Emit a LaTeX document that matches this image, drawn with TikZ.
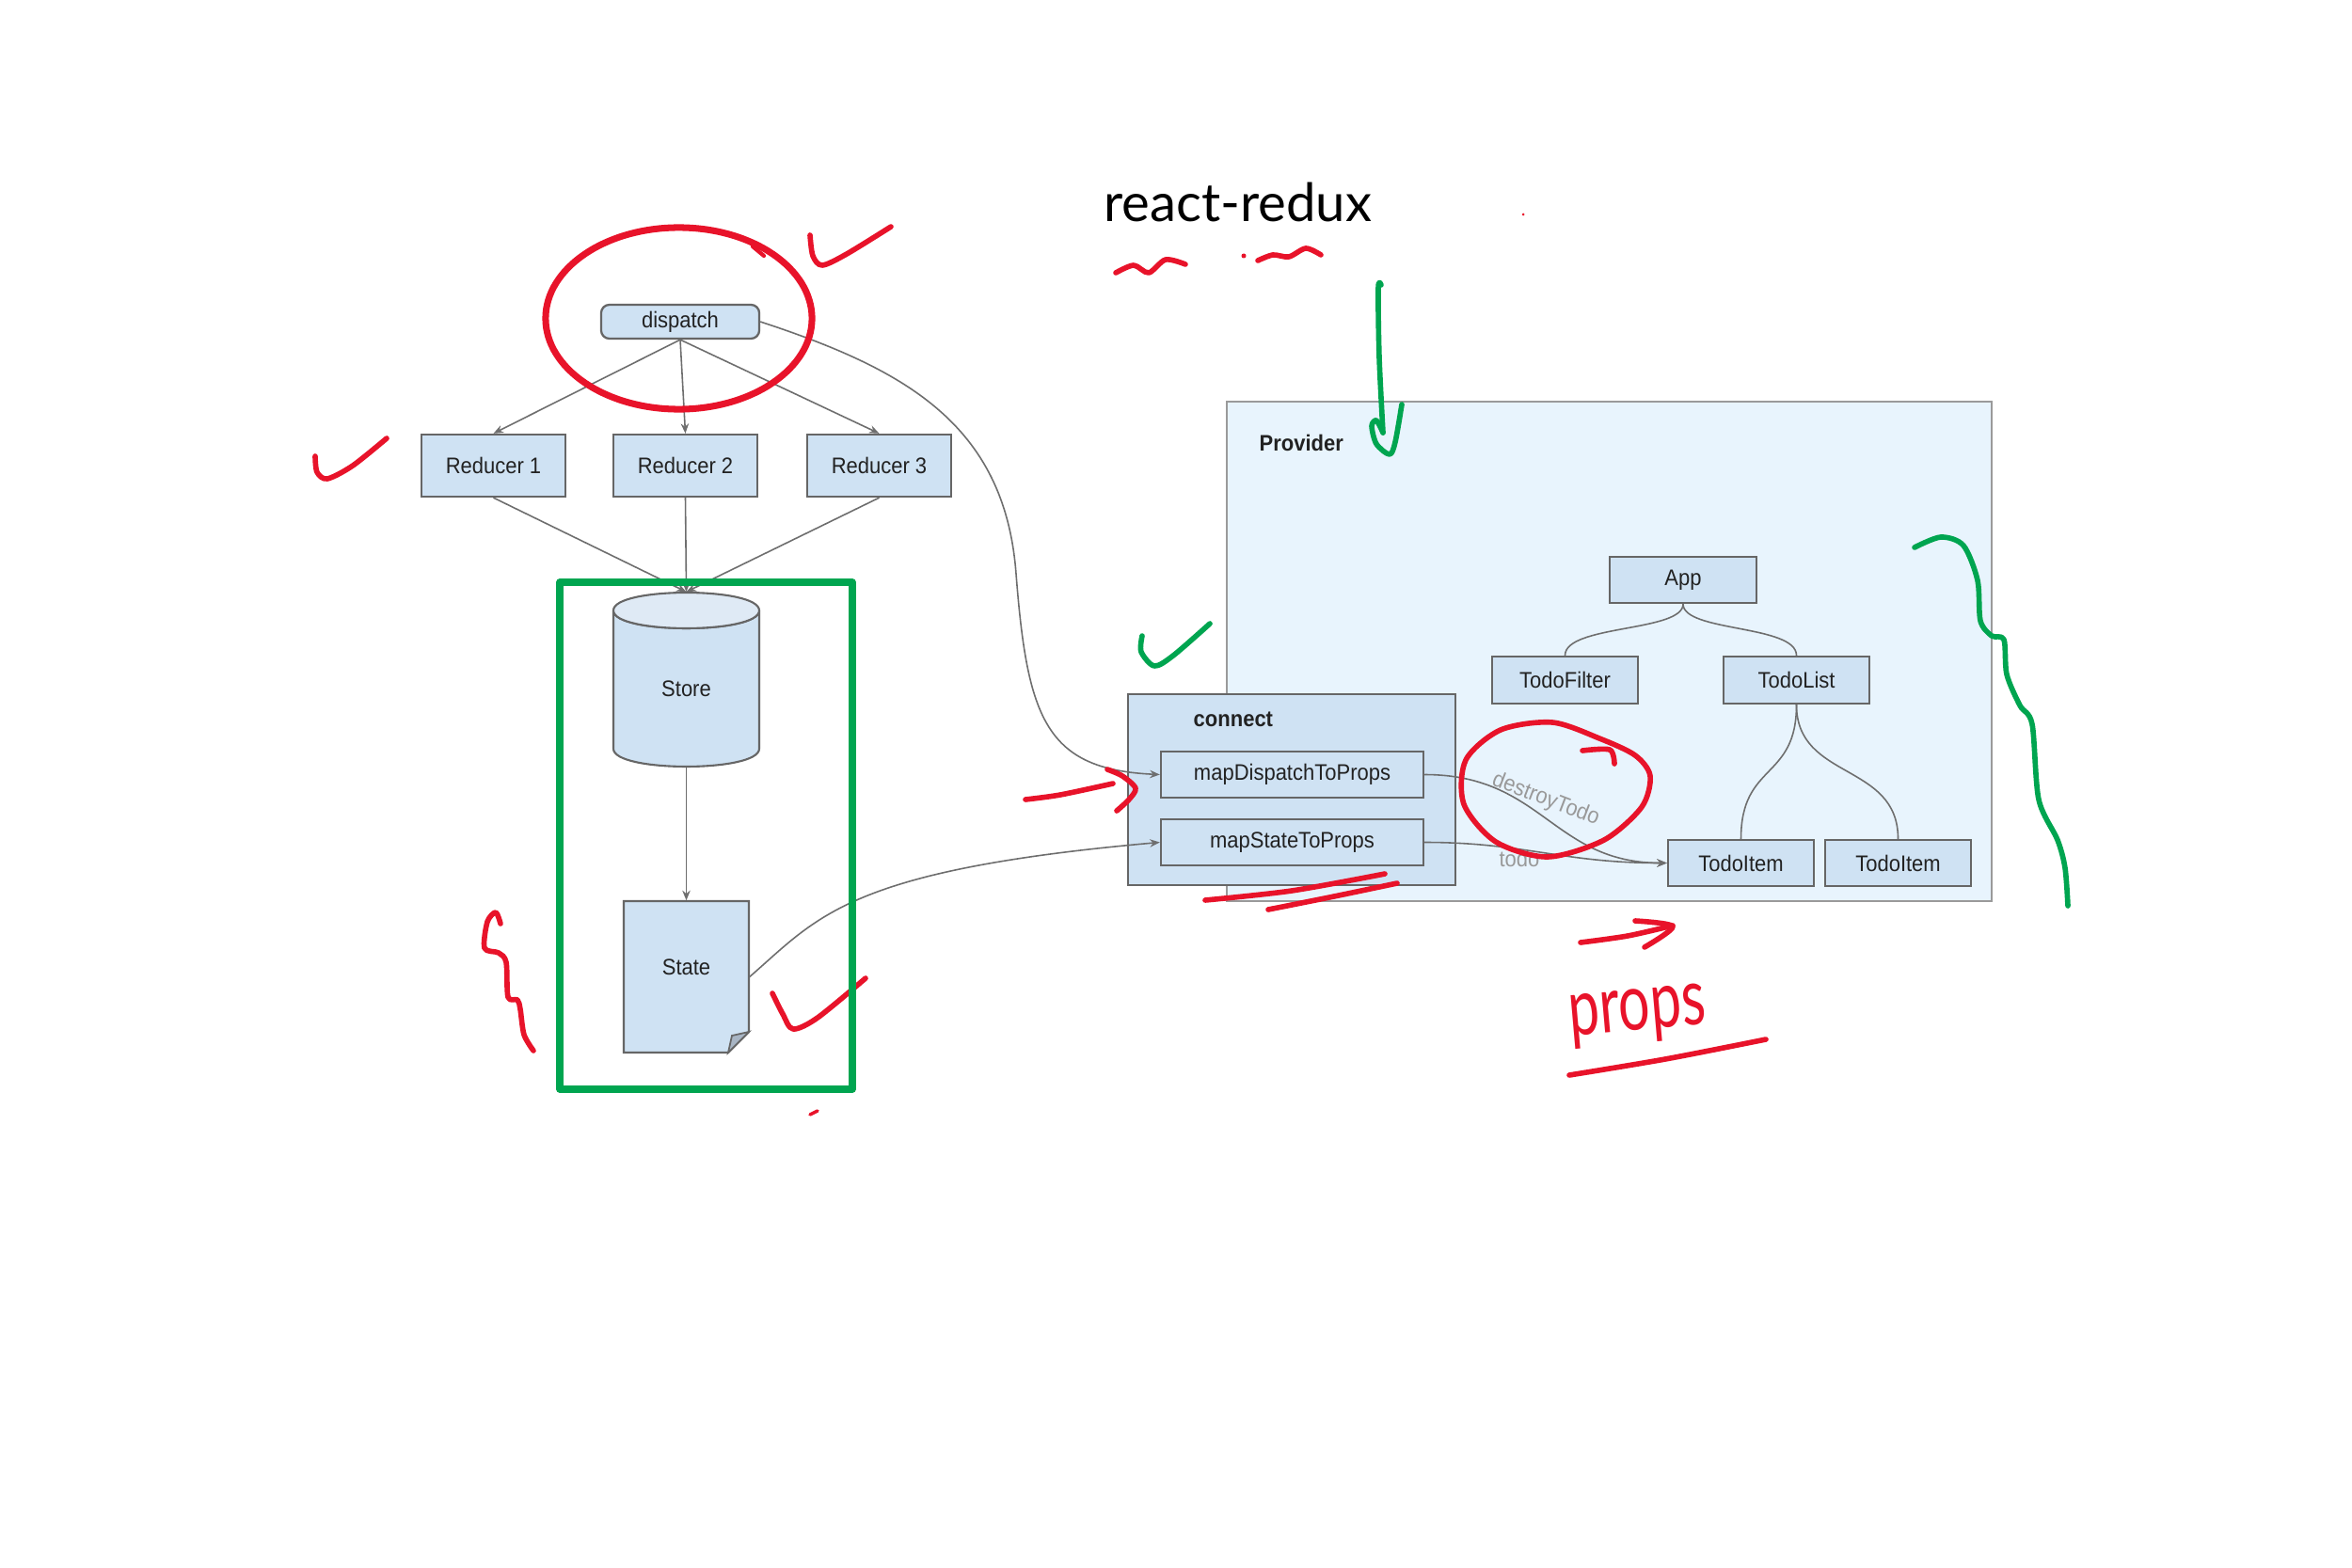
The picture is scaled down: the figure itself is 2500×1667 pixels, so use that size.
\documentclass[tikz,border=0pt]{standalone}
\usepackage{fontspec}
\setmainfont{Liberation Sans}
\newfontfamily\boxfont[FakeStretch=0.92]{Liberation Sans}
\newfontfamily\titlefont{Lato}
\newfontfamily\handfont[FakeStretch=0.7]{Lato}
\usetikzlibrary{arrows.meta}
\definecolor{boxfill}{HTML}{CFE2F3}
\definecolor{boxline}{HTML}{666666}
\definecolor{provfill}{HTML}{E8F4FD}
\definecolor{provline}{HTML}{9A9A9A}
\definecolor{conncol}{HTML}{6E6E6E}
\definecolor{lblcol}{HTML}{999999}
\definecolor{txtcol}{HTML}{222222}
\definecolor{penred}{HTML}{E8132A}
\definecolor{pengreen}{HTML}{00A550}
\definecolor{cylend}{HTML}{DFEAF5}
\definecolor{foldcol}{HTML}{A8B5C4}
\tikzset{
  box/.style={draw=boxline, fill=boxfill, line width=0.65pt, inner sep=0pt,
    font=\boxfont\fontsize{6.8}{8}\selectfont, text=txtcol},
  plain/.style={inner sep=0pt, font=\boxfont\fontsize{6.8}{8}\selectfont, text=txtcol},
  grouplabel/.style={inner sep=0pt, font=\boxfont\bfseries\fontsize{6.8}{8}\selectfont, text=txtcol},
  edgelbl/.style={inner sep=0pt, font=\boxfont\fontsize{6.8}{8}\selectfont, text=lblcol},
  conn/.style={draw=conncol, line width=0.45pt},
  arr/.style={conn, -{Stealth[length=3pt,width=2.4pt]}},
  redpen/.style={draw=penred, line width=1.6pt, line cap=round, line join=round},
  greenpen/.style={draw=pengreen, line width=1.6pt, line cap=round, line join=round},
}
\begin{document}
\begin{tikzpicture}[x=0.01cm,y=-0.01cm]
\fill[white] (0,0) rectangle (2500,1667);
\useasboundingbox (0,0) rectangle (2500,1667);

% ---------- left part ----------
\node[box, rounded corners=2.5pt, minimum width=1.68cm, minimum height=0.36cm] (dispatch) at (723,342) {dispatch};
\node[box, minimum width=1.53cm, minimum height=0.66cm] (r1) at (524.5,495) {Reducer 1};
\node[box, minimum width=1.53cm, minimum height=0.66cm] (r2) at (728.5,495) {Reducer 2};
\node[box, minimum width=1.53cm, minimum height=0.66cm] (r3) at (934.5,495) {Reducer 3};

% store cylinder
\path[draw=boxline, fill=boxfill, line width=0.6pt]
  (652,649) -- (652,796) .. controls (652,821.3) and (807,821.3) .. (807,796) -- (807,649)
  .. controls (807,674.3) and (652,674.3) .. (652,649) -- cycle;
\path[draw=boxline, fill=cylend, line width=0.6pt]
  (652,649) .. controls (652,623.7) and (807,623.7) .. (807,649)
  .. controls (807,674.3) and (652,674.3) .. (652,649) -- cycle;
\node[plain, minimum width=1.55cm, minimum height=1.85cm,
  label={[plain, yshift=-0.1cm]center:Store}] (store) at (729.5,722.5) {};

% state document
\path[draw=boxline, fill=boxfill, line width=0.6pt]
  (663,958) -- (796,958) -- (796,1097) -- (774,1119) -- (663,1119) -- cycle;
\path[draw=boxline, fill=foldcol, line width=0.5pt]
  (796,1097) -- (778,1101) -- (774,1119) -- cycle;
\node[plain, minimum width=1.33cm, minimum height=1.61cm,
  label={[plain, yshift=0.1cm]center:State}] (state) at (729.5,1038.5) {};

\draw[arr] (dispatch.south) -- (r1.north);
\draw[arr] (dispatch.south) -- (r2.north);
\draw[arr] (dispatch.south) -- (r3.north);
\draw[arr] (r1.south) -- (store.north);
\draw[arr] (r2.south) -- (store.north);
\draw[arr] (r3.south) -- (store.north);
\draw[arr] (store.south) -- (state.north);

% ---------- right part ----------
\node[draw=provline, fill=provfill, line width=0.6pt, inner sep=0pt,
  minimum width=8.13cm, minimum height=5.31cm] (provider) at (1710.5,692.5) {};
\node[grouplabel, anchor=west] (providerlbl) at (1338,471) {Provider};

\node[draw=boxline, fill=boxfill, line width=0.6pt, inner sep=0pt,
  minimum width=3.48cm, minimum height=2.03cm] (connect) at (1373,839.5) {};
\node[grouplabel, anchor=west] (connectlbl) at (1268,765) {connect};
\node[box, minimum width=2.79cm, minimum height=0.49cm] (mdp) at (1373.5,823.5) {mapDispatchToProps};
\node[box, minimum width=2.79cm, minimum height=0.49cm] (msp) at (1373.5,895.5) {mapStateToProps};

\node[box, minimum width=1.56cm, minimum height=0.49cm] (app) at (1789,616.5) {App};
\node[box, minimum width=1.55cm, minimum height=0.50cm] (tf) at (1663.5,723) {TodoFilter};
\node[box, minimum width=1.55cm, minimum height=0.50cm] (tl) at (1909.5,723) {TodoList};
\node[box, minimum width=1.55cm, minimum height=0.49cm] (ti1) at (1850.5,917.5) {TodoItem};
\node[box, minimum width=1.55cm, minimum height=0.49cm] (ti2) at (2017.5,917.5) {TodoItem};

\draw[conn] (app.south) .. controls (1789,672) and (1663.5,664) .. (tf.north);
\draw[conn] (app.south) .. controls (1789,672) and (1909.5,664) .. (tl.north);
\draw[conn] (tl.south) .. controls (1909.5,830) and (1850.5,810) .. (ti1.north);
\draw[conn] (tl.south) .. controls (1909.5,830) and (2017.5,810) .. (ti2.north);

\draw[arr] (dispatch.east) .. controls (960,392) and (1068,450) .. (1080,610)
  .. controls (1092,765) and (1112,818) .. (mdp.west);
\draw[arr] (state.east) .. controls (870,975) and (900,925) .. (msp.west);
\draw[arr] (mdp.east) .. controls (1640,823.5) and (1650,917.5) .. (ti1.west);
\draw[arr] (msp.east) .. controls (1620,895.5) and (1660,917.5) .. (ti1.west);
\node[edgelbl, rotate=-21] (destroylbl) at (1643,850) {destroyTodo};
\node[edgelbl] (todolbl) at (1615,913) {todo};

% ---------- title ----------
\node[anchor=base, inner sep=0pt, font=\titlefont\fontsize{16}{18}\selectfont] (title) at (1315.5,236) {react-redux};

% ---------- red annotations ----------
\draw[redpen] plot[smooth] coordinates {(1186,290) (1205,282) (1221,290) (1239,276) (1260,281)};
\draw[redpen] plot[smooth] coordinates {(1337,277) (1353,271) (1370,273) (1388,264) (1404,271)};
\fill[penred] (1322,272) circle[radius=0.025cm];
\fill[penred] (1619,228) circle[radius=0.015cm];

\draw[redpen, line width=2pt] (721.5,338.5) ellipse[x radius=1.415cm, y radius=0.965cm];
\draw[redpen, line width=1.2pt] (800,262) -- (812,272);
\draw[redpen] plot[smooth] coordinates {(861,250) (864,272) (874,282) (900,270) (947,241)};
\draw[redpen] plot[smooth] coordinates {(335,485) (337,502) (348,509) (375,495) (411,466)};
\draw[redpen] plot[smooth, tension=0.5] coordinates {(532,982) (527,970) (518,980) (515,1008) (530,1013) (538,1023) (540,1060) (550,1063) (553,1073) (557,1100) (567,1117)};
\draw[redpen] plot[smooth] coordinates {(821,1056) (832,1078) (843,1094) (869,1082) (920,1040)};
\draw[redpen, line width=1pt] (861,1185) -- (869,1181);

\draw[redpen] plot[smooth] coordinates {(1090,850) (1127,845) (1183,833)};
\draw[redpen] plot[smooth] coordinates {(1177,818) (1193,825) (1207,838) (1200,850) (1187,862)};
\draw[redpen] plot[smooth] coordinates {(1281,957) (1373,947) (1472,929)};
\draw[redpen] plot[smooth] coordinates {(1348,967) (1418,953) (1485,939)};

\draw[redpen] plot[smooth cycle] coordinates {(1700,785) (1650,768) (1595,776) (1558,808) (1556,855) (1590,895) (1645,911) (1705,893) (1745,858) (1754,825) (1738,803)};
\draw[redpen] plot[smooth] coordinates {(1682,798) (1711,797) (1716,812)};

\draw[redpen] plot[smooth] coordinates {(1680,1002) (1730,995) (1778,984)};
\draw[redpen] plot[smooth] coordinates {(1738,979) (1778,985) (1748,1007)};
\node[anchor=base, inner sep=0pt, rotate=5, text=penred, font=\handfont\fontsize{24}{26}\selectfont] (props) at (1742,1095) {props};
\draw[redpen] plot[smooth] coordinates {(1668,1143) (1770,1126) (1877,1105)};

% ---------- green annotations ----------
\draw[greenpen, line width=2.1pt] (595,619) rectangle (906,1158);
\draw[greenpen] plot[smooth] coordinates {(1214,676) (1213,693) (1227,708) (1247,697) (1286,663)};
\draw[greenpen] plot[smooth] coordinates {(1468,303) (1465,306) (1466,380) (1470,460)};
\draw[greenpen] plot[smooth] coordinates {(1470,460) (1463,447) (1458,453) (1463,472) (1477,483) (1483,470) (1490,430)};
\draw[greenpen] plot[smooth] coordinates {(2035,582) (2063,571) (2087,580) (2102,617) (2105,660) (2117,676) (2130,680) (2133,717) (2147,750) (2160,770) (2167,850) (2187,893) (2195,923) (2198,963)};
\end{tikzpicture}
\end{document}
